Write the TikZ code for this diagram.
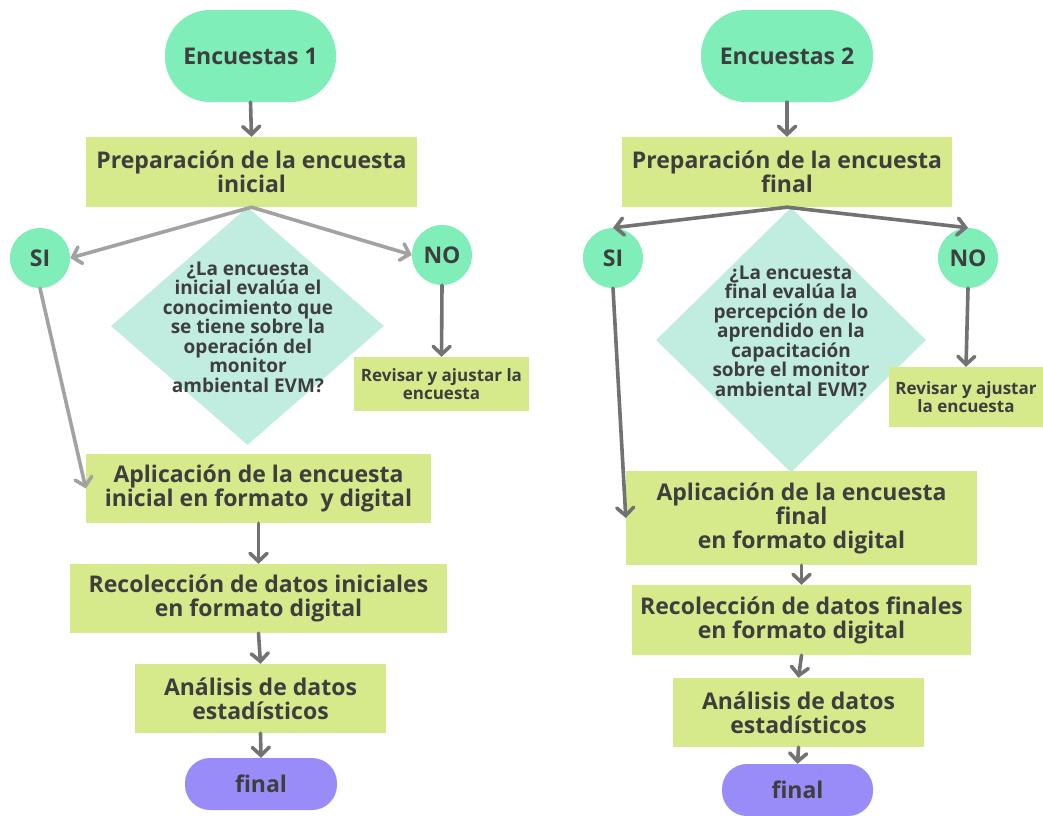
\documentclass[tikz,border=0pt]{standalone}
\usepackage{fontspec}
\setmainfont{Open Sans}
\usetikzlibrary{arrows.meta,shapes.geometric}
\definecolor{txtc}{HTML}{3E3E3E}
\definecolor{termc}{HTML}{7FEEB9}
\definecolor{boxc}{HTML}{D6E98B}
\definecolor{diac}{HTML}{C1ECE0}
\definecolor{endc}{HTML}{9A8CF8}
\definecolor{arrd}{HTML}{727272}
\definecolor{arrl}{HTML}{A2A2A2}
\begin{document}
\begin{tikzpicture}[x=1pt,y=-1pt,
  every node/.style={text=txtc, font=\bfseries\fontsize{23}{24}\selectfont, align=center, inner sep=0pt},
  term/.style={fill=termc, rounded corners=45pt},
  fin/.style={fill=endc, rounded corners=25pt},
  box/.style={fill=boxc},
  circ/.style={circle, fill=termc, minimum size=60pt},
  dia/.style={diamond, fill=diac},
  qtext/.style={font=\bfseries\fontsize{19}{19.5}\selectfont},
  small/.style={font=\bfseries\fontsize{17}{18}\selectfont},
  arr/.style={draw=arrd, line width=3.6pt, line cap=round, -{Straight Barb[length=8pt,width=17pt,line cap=round]}},
  arrlight/.style={arr, draw=arrl}
]
\useasboundingbox (0,0) rectangle (1043,815);

% ---------- left flow ----------
\node[term, minimum width=171pt, minimum height=92pt] (enc1) at (250.5,56) {Encuestas 1};
\node[box, minimum width=331pt, minimum height=70pt] (prep1) at (251.5,172) {Preparación de la encuesta\\inicial};
\node[dia, minimum width=273pt, minimum height=238pt] (q1) at (247.5,326) {};
\node[qtext] (q1t) at (248,327) {¿La encuesta\\inicial evalúa el\\conocimiento que\\se tiene sobre la\\operación del\\monitor\\ambiental EVM?};
\node[circ] (si1) at (40,258) {SI};
\node[circ] (no1) at (442,255) {NO};
\node[box, small, minimum width=175pt, minimum height=54pt] (rev1) at (441.5,384) {Revisar y ajustar la\\encuesta};
\node[box, minimum width=345pt, minimum height=69pt] (apl1) at (258.5,488.5) {Aplicación de la encuesta\\inicial en formato~ y digital};
\node[box, minimum width=377pt, minimum height=69pt] (rec1) at (258.5,598.5) {Recolección de datos iniciales\\en formato digital};
\node[box, minimum width=251pt, minimum height=69pt] (ana1) at (260.5,698.5) {Análisis de datos\\estadísticos};
\node[fin, minimum width=152pt, minimum height=52pt] (fin1) at (261,784) {final};

\draw[arr] (enc1.south) -- (prep1.north);
\draw[arrlight] (prep1.south) -- (si1.east);
\draw[arrlight] (prep1.south) -- (no1.west);
\draw[arr] (no1.south) -- (rev1.north);
\draw[arrlight] (si1.south) -- (apl1.west);
\draw[arr] (apl1.south) -- (rec1.north);
\draw[arr] (rec1.south) -- (ana1.north);
\draw[arr] (ana1.south) -- (fin1.north);

% ---------- right flow ----------
\node[term, minimum width=172pt, minimum height=92pt] (enc2) at (787,56) {Encuestas 2};
\node[box, minimum width=330pt, minimum height=70pt] (prep2) at (787,172) {Preparación de la encuesta\\final};
\node[dia, minimum width=270pt, minimum height=265pt] (q2) at (791,340) {};
\node[qtext] (q2t) at (791,331) {¿La encuesta\\final evalúa la\\percepción de lo\\aprendido en la\\capacitación\\sobre el monitor\\ambiental EVM?};
\node[circ] (si2) at (613,258) {SI};
\node[circ] (no2) at (968,258) {NO};
\node[box, small, minimum width=154pt, minimum height=60pt] (rev2) at (966,397) {Revisar y ajustar\\la encuesta};
\node[box, minimum width=351pt, minimum height=94pt] (apl2) at (801.5,518) {Aplicación de la encuesta\\final\\en formato digital};
\node[box, minimum width=339pt, minimum height=70pt] (rec2) at (801.5,620) {Recolección de datos finales\\en formato digital};
\node[box, minimum width=251pt, minimum height=69pt] (ana2) at (798.5,712.5) {Análisis de datos\\estadísticos};
\node[fin, minimum width=151pt, minimum height=52pt] (fin2) at (797.5,790) {final};

\draw[arr] (enc2.south) -- (prep2.north);
\draw[arr] (prep2.south) -- (si2.north);
\draw[arr] (prep2.south) -- (no2.north);
\draw[arr] (no2.south) -- (rev2.north);
\draw[arr] (si2.south) -- (apl2.west);
\draw[arr] (apl2.south) -- (rec2.north);
\draw[arr] (rec2.south) -- (ana2.north);
\draw[arr] (ana2.south) -- (fin2.north);
\end{tikzpicture}
\end{document}
